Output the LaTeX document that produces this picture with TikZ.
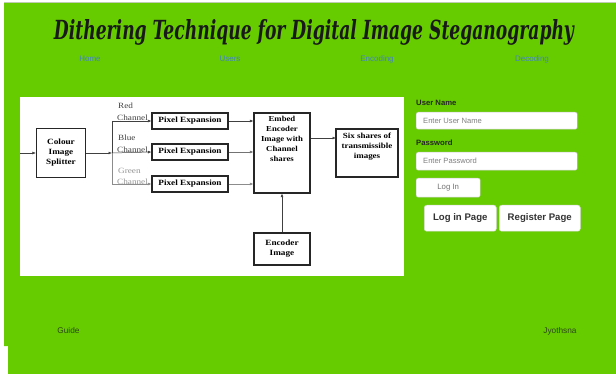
\documentclass[tikz,border=0pt]{standalone}
\usepackage{fontspec}
\usepackage{graphicx}
\usetikzlibrary{arrows.meta}
\newfontfamily\webfont{Liberation Sans}
\newfontfamily\diafont[FakeStretch=1.15]{Liberation Serif}
\newfontfamily\titlefont{DejaVu Serif}
\definecolor{pagegreen}{RGB}{102,204,0}
\definecolor{navblue}{RGB}{70,130,195}
\definecolor{labgray}{RGB}{68,68,68}
\definecolor{lightlab}{RGB}{150,150,150}
\definecolor{fieldborder}{RGB}{200,200,200}
\definecolor{foottext}{RGB}{45,70,25}
\tikzset{
  dbox/.style={draw=black!85, line width=1.1pt, fill=white, inner sep=1pt, align=center, font=\diafont\bfseries\fontsize{8}{10}\selectfont},
  arr/.style={draw=black!75, line width=0.5pt, -{Latex[length=3.5pt,width=2.8pt]}},
  chlab/.style={anchor=west, inner sep=0pt, font=\diafont\fontsize{8}{9}\selectfont},
  nav/.style={font=\webfont\fontsize{8}{9}\selectfont, text=navblue},
  flabel/.style={anchor=west, inner sep=0pt, font=\webfont\bfseries\fontsize{7.7}{9}\selectfont, text=black!85},
  field/.style={draw=fieldborder, fill=white, rounded corners=2pt, line width=0.4pt},
  hint/.style={anchor=west, inner sep=0pt, font=\webfont\fontsize{7.6}{9}\selectfont, text=black!50},
  bigbtn/.style={draw=black!15, fill=white, rounded corners=2.5pt, line width=0.5pt, font=\webfont\bfseries\fontsize{9.6}{11}\selectfont, text=black!80, inner sep=0pt},
  foot/.style={font=\webfont\fontsize{8.3}{9}\selectfont, text=foottext}
}
\begin{document}
\begin{tikzpicture}[x=1pt,y=-1pt]
\useasboundingbox (0,0) rectangle (616,374);
\fill[white] (0,0) rectangle (616,374);
% green page
\fill[black!20] (4,2) rectangle (620,3);
\fill[pagegreen] (4,3) -- (620,3) -- (620,378) -- (8,378) -- (8,346) -- (4,346) -- cycle;
% title
\node[text=black!90, inner sep=0pt] (title) at (314,32) {\resizebox{520pt}{20pt}{\titlefont\bfseries\itshape Dithering Technique for Digital Image Steganography}};
% nav
\node[nav] (home) at (90,59) {Home};
\node[nav] (users) at (230,59) {Users};
\node[nav] (enc) at (377,59) {Encoding};
\node[nav] (dec) at (532,59) {Decoding};
% diagram canvas
\fill[white] (20,97) rectangle (404,276);
\node[dbox, minimum width=49pt, minimum height=49pt] (split) at (61,153) {Colour\\Image\\Splitter};
\node[dbox, minimum width=76pt, minimum height=16pt] (pix1) at (190,121) {Pixel Expansion};
\node[dbox, minimum width=76pt, minimum height=16pt] (pix2) at (190,152) {Pixel Expansion};
\node[dbox, minimum width=76pt, minimum height=16pt] (pix3) at (190,184) {Pixel Expansion};
\node[dbox, minimum width=56pt, minimum height=80pt] (embed) at (282,153) {};
\node[anchor=north, align=center, inner sep=0pt, font=\diafont\bfseries\fontsize{7.6}{10}\selectfont] (embedtxt) at (282,116) {Embed\\Encoder\\Image with\\Channel\\shares};
\node[dbox, minimum width=62pt, minimum height=48pt, font=\diafont\bfseries\fontsize{7.8}{10}\selectfont] (six) at (367,153) {Six shares of\\transmissible\\images\\[5pt]};
\node[dbox, minimum width=56pt, minimum height=32pt] (encimg) at (282,249) {Encoder\\Image};
\coordinate (in) at (20,153);
\coordinate (br) at (112,153);
\coordinate (brtop) at (112,121);
\coordinate (brbot) at (112,184);
\draw[arr] (in) -- (split.west);
\draw[arr] (split.east) -- (br);
\draw[black!75, line width=0.5pt] (brtop) -- (br);
\draw[black!45, line width=0.5pt] (br) -- (brbot);
\draw[arr] (brtop) -- (pix1.west);
\draw[arr] (br) -- (pix2.west);
\draw[arr, draw=black!45] (brbot) -- (pix3.west);
\draw[arr] (pix1.east) -- (embed.west |- pix1.east);
\draw[arr, draw=black!55] (pix2.east) -- (embed.west |- pix2.east);
\draw[arr, draw=black!45] (pix3.east) -- (embed.west |- pix3.east);
\coordinate (sixin) at (336,138);
\draw[arr] (embed.east |- sixin) -- (sixin);
\draw[arr] (encimg.north) -- (embed.south);
\node[chlab, text=labgray] (redl) at (118,106) {Red};
\node[chlab, text=labgray] (redc) at (117,118) {Channel};
\node[chlab, text=labgray] (bluel) at (118,138) {Blue};
\node[chlab, text=labgray] (bluec) at (117,150) {Channel};
\node[chlab, text=lightlab] (greenl) at (118,171) {Green};
\node[chlab, text=lightlab] (greenc) at (117,182) {Channel};
% form
\node[flabel] (ulab) at (416,103) {User Name};
\node[field, minimum width=161pt, minimum height=17pt, anchor=north west] (ufield) at (416,112) {};
\node[hint] (uhint) at (423,120.5) {Enter User Name};
\node[flabel] (plab) at (416,143) {Password};
\node[field, minimum width=161pt, minimum height=18pt, anchor=north west] (pfield) at (416,152) {};
\node[hint] (phint) at (423,161) {Enter Password};
\node[field, minimum width=64pt, minimum height=19pt, anchor=north west, font=\webfont\fontsize{7.8}{9}\selectfont, text=black!55] (login) at (416,178) {Log In};
\node[bigbtn, minimum width=72pt, minimum height=26pt, anchor=north west] (lpage) at (424,205) {Log in Page};
\node[bigbtn, minimum width=81pt, minimum height=26pt, anchor=north west] (rpage) at (499,205) {Register Page};
% footer
\node[foot] (guide) at (68.5,331) {Guide};
\node[foot] (jy) at (560,331) {Jyothsna};
\end{tikzpicture}
\end{document}
